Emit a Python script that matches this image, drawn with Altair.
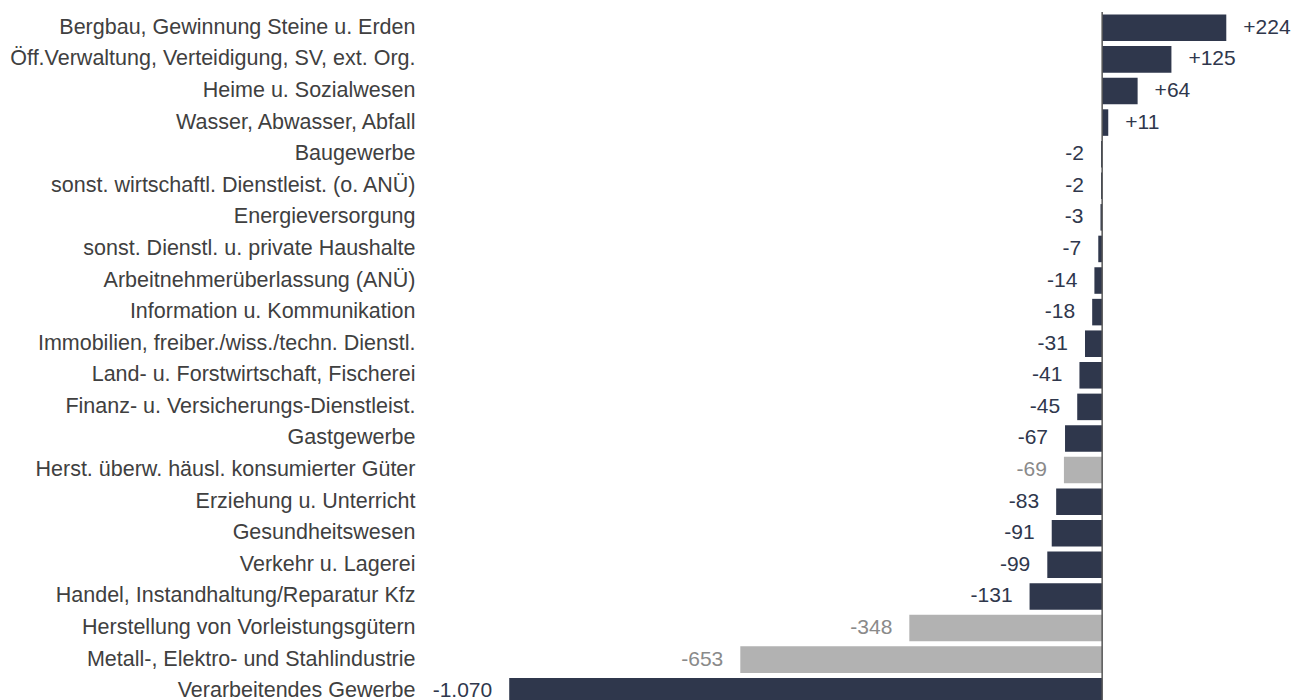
import altair as alt
import pandas as pd

categories = [
    "Bergbau, Gewinnung Steine u. Erden",
    "Öff.Verwaltung, Verteidigung, SV, ext. Org.",
    "Heime u. Sozialwesen",
    "Wasser, Abwasser, Abfall",
    "Baugewerbe",
    "sonst. wirtschaftl. Dienstleist. (o. ANÜ)",
    "Energieversorgung",
    "sonst. Dienstl. u. private Haushalte",
    "Arbeitnehmerüberlassung (ANÜ)",
    "Information u. Kommunikation",
    "Immobilien, freiber./wiss./techn. Dienstl.",
    "Land- u. Forstwirtschaft, Fischerei",
    "Finanz- u. Versicherungs-Dienstleist.",
    "Gastgewerbe",
    "Herst. überw. häusl. konsumierter Güter",
    "Erziehung u. Unterricht",
    "Gesundheitswesen",
    "Verkehr u. Lagerei",
    "Handel, Instandhaltung/Reparatur Kfz",
    "Herstellung von Vorleistungsgütern",
    "Metall-, Elektro- und Stahlindustrie",
    "Verarbeitendes Gewerbe",
]
values = [224, 125, 64, 11, -2, -2, -3, -7, -14, -18, -31, -41, -45, -67,
          -69, -83, -91, -99, -131, -348, -653, -1070]
groups = ["main"] * 14 + ["sub"] + ["main"] * 4 + ["sub", "sub"] + ["main"]


def fmt(v):
    s = f"{abs(v):,}".replace(",", ".")
    return ("+" if v > 0 else "-") + s


df = pd.DataFrame({
    "cat": categories,
    "value": values,
    "grp": groups,
    "label": [fmt(v) for v in values],
})

FONT = "Liberation Sans"
xscale = alt.Scale(domain=[-1231, 348], nice=False, zero=False)
yenc = alt.Y(
    "cat:N",
    sort=categories,
    scale=alt.Scale(paddingInner=0.16, paddingOuter=0.08),
    axis=alt.Axis(
        title=None, ticks=False, domain=False, labelPadding=5,
        labelFontSize=21.5, labelColor="#404040", labelFont=FONT,
        labelLimit=0, minExtent=412, maxExtent=412,
    ),
)

base = alt.Chart(df)

bars = base.mark_bar().encode(
    x=alt.X("value:Q", scale=xscale, axis=None),
    x2=alt.datum(0),
    y=yenc,
    color=alt.Color(
        "grp:N",
        scale=alt.Scale(domain=["main", "sub"], range=["#2f374c", "#b2b2b2"]),
        legend=None,
    ),
)

rule = alt.Chart(pd.DataFrame({"z": [0]})).mark_rule(
    color="#555555", strokeWidth=1.5
).encode(x=alt.X("z:Q", scale=xscale, axis=None))

txtcolor = alt.condition(
    alt.datum.grp == "sub", alt.value("#8a8a8a"), alt.value("#2f374c")
)

pos_text = base.transform_filter(alt.datum.value > 0).mark_text(
    align="left", baseline="middle", dx=17, fontSize=21, font=FONT
).encode(
    x=alt.X("value:Q", scale=xscale, axis=None),
    y=yenc,
    text="label:N",
    color=txtcolor,
)

neg_text = base.transform_filter(alt.datum.value < 0).mark_text(
    align="right", baseline="middle", dx=-17, fontSize=21, font=FONT
).encode(
    x=alt.X("value:Q", scale=xscale, axis=None),
    y=yenc,
    text="label:N",
    color=txtcolor,
)

chart = alt.layer(bars, rule, pos_text, neg_text).properties(
    width=875,
    height=695,
    padding={"left": 0, "top": 3, "right": 0, "bottom": 0},
).configure_view(stroke=None)

chart.save("out.html", embed_options={"renderer": "svg", "actions": False})
